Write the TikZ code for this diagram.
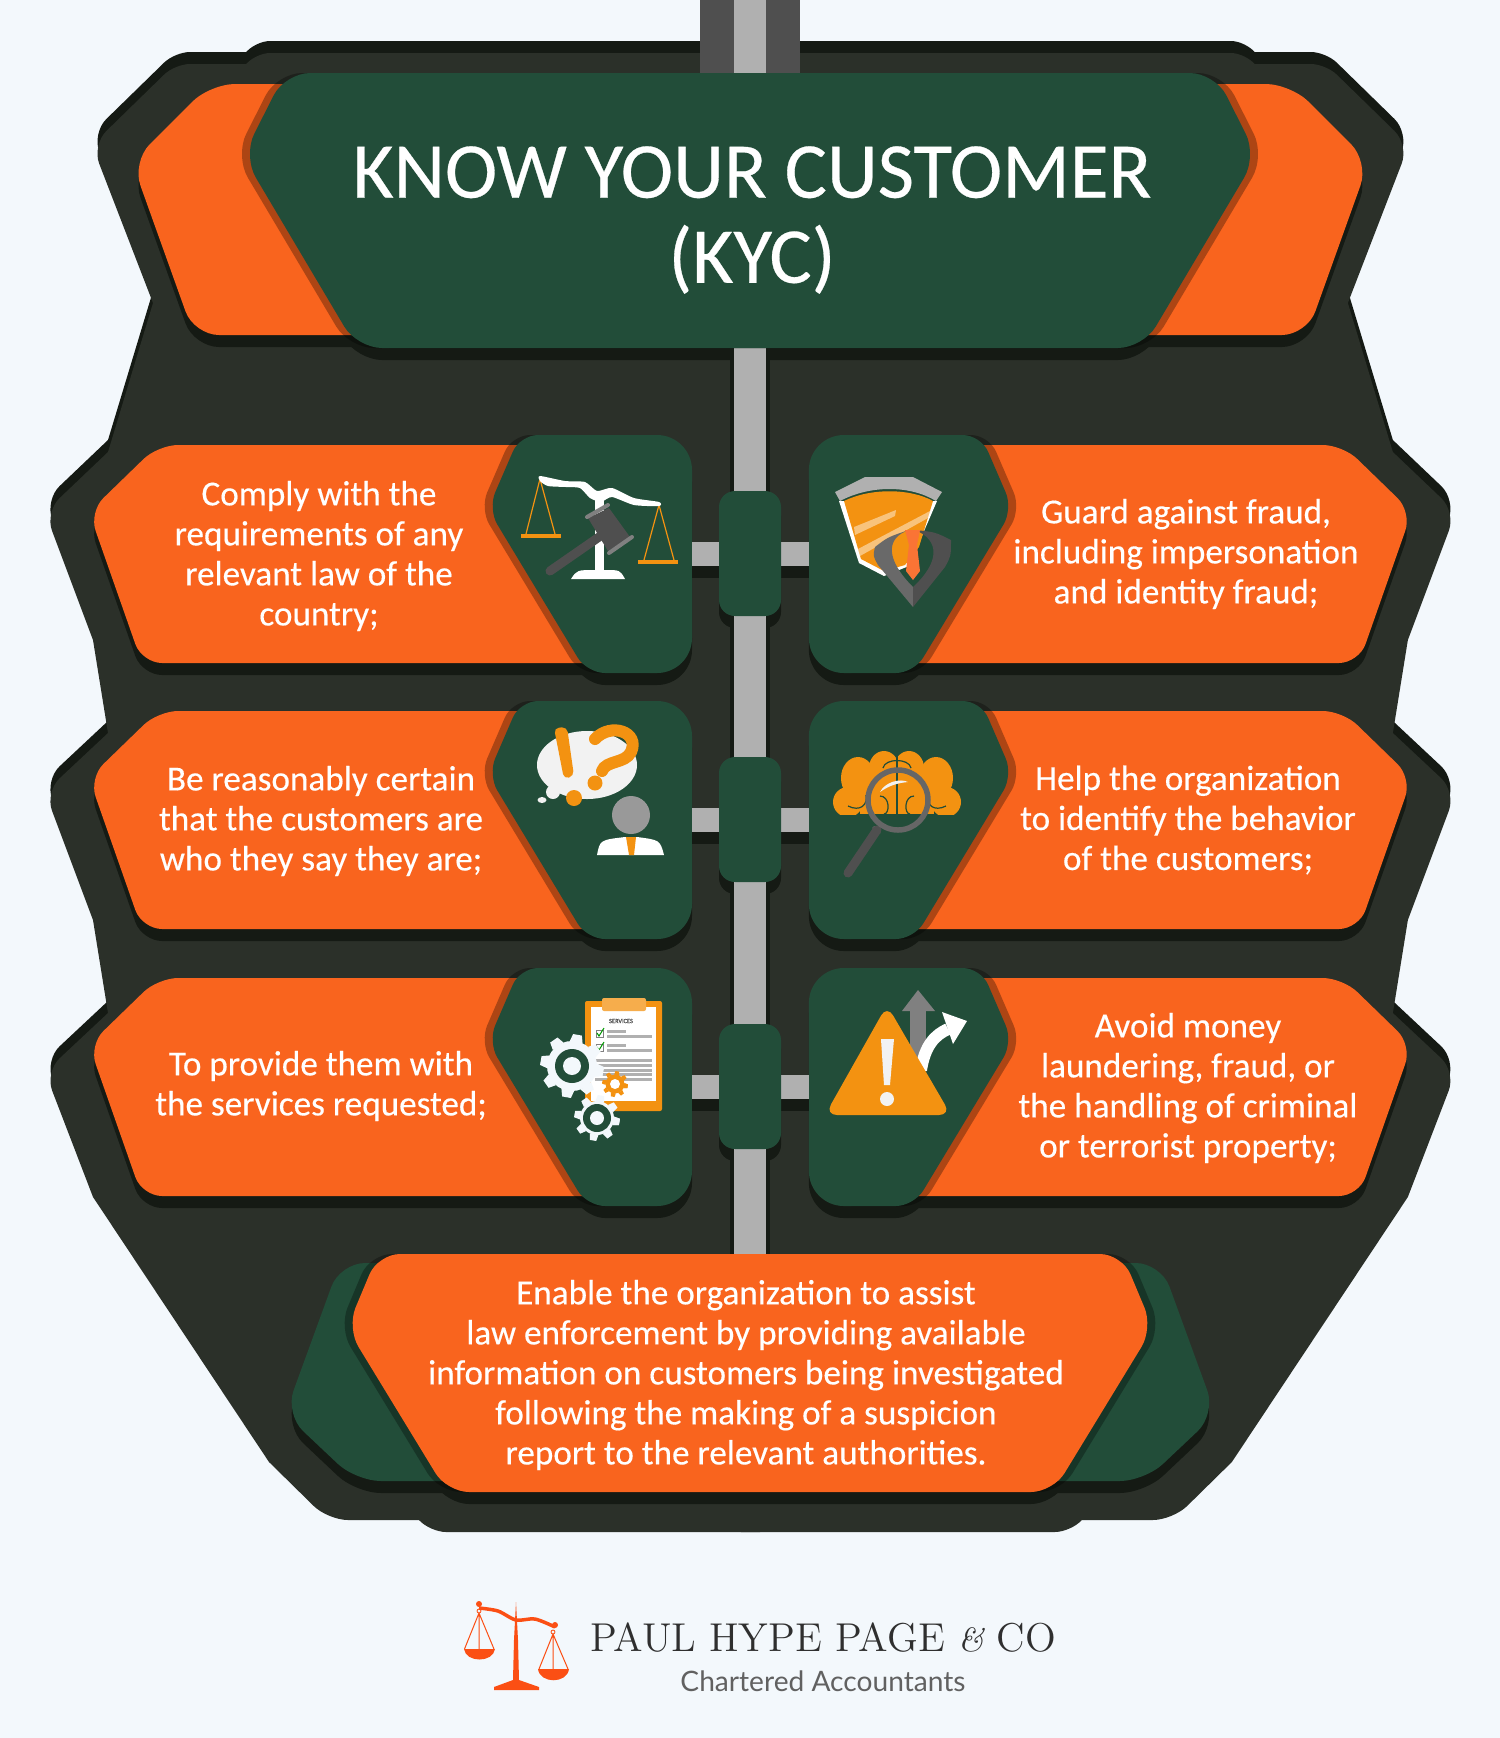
\documentclass[tikz,border=0pt]{standalone}
\usepackage{fontspec}
\usetikzlibrary{calc}
\newfontfamily\cabin[FakeBold=0.35]{Carlito}
\newfontfamily\plainsans{Lato}

\definecolor{paperbg}{HTML}{F3F8FC}
\definecolor{bodydark}{HTML}{2B3029}
\definecolor{shadowdark}{HTML}{151A14}
\definecolor{kycorange}{HTML}{F9641E}
\definecolor{kycgreen}{HTML}{224D39}
\definecolor{polegray}{HTML}{B0B0B0}
\definecolor{irongray}{HTML}{4F4F4F}
\definecolor{iconorange}{HTML}{F39211}
\definecolor{logored}{HTML}{FB4F14}

\tikzset{
  dropshadow/.style={fill=shadowdark,yshift=-.12cm},
  sidedim/.style={fill=black,fill opacity=.3,xshift=-.08cm},
  mirrored/.style={xscale=-1,xshift=-15cm},
  rowtext/.style={text=white,align=center,font=\cabin\fontsize{10}{11.38}\selectfont},
  titletext/.style={text=white,align=center,font=\cabin\fontsize{22.5}{24.2}\selectfont},
}

\def\bodyhalf{(760,53) [rounded corners=.16cm] -- (254,53) [sharp corners] -- (246,64) [rounded corners=.15cm] -- (175,64) [rounded corners=.2cm] -- (92,145) [sharp corners] -- (153,303) -- (108,452) [rounded corners=.2cm] -- (45,512) [sharp corners] -- (93,640) -- (108,733) [rounded corners=.2cm] -- (45,792) [sharp corners] -- (93,920) -- (108,1013) [rounded corners=.2cm] -- (45,1072) [sharp corners] -- (93,1197) -- (269,1462) [rounded corners=.2cm] -- (328,1520) [sharp corners] -- (419,1520) [rounded corners=.16cm] -- (430,1532) [sharp corners] -- (760,1532) -- cycle}
\def\headorange{(760,84) [rounded corners=.25cm] -- (210,84) -- (132,162) -- (194,335) [sharp corners] -- (760,335) -- cycle}
\def\headgreen{(750,73) [rounded corners=.25cm] -- (285,73) -- (243,156) -- (357,348) -- (1143,348) -- (1257,156) -- (1215,73) [sharp corners] -- cycle}
\def\footgreen{(760,1263) [rounded corners=.25cm] -- (340,1263) -- (285,1414) -- (356,1481) [sharp corners] -- (760,1481) -- cycle}
\def\footorange{(750,1254) [rounded corners=.22cm] -- (378,1254) -- (347,1328) -- (447,1492) -- (1053,1492) -- (1153,1328) -- (1122,1254) [sharp corners] -- cycle}
\def\rowpanel{(600,445) [rounded corners=.2cm] -- (158,445) -- (89,512) -- (142,663) [sharp corners] -- (600,663) -- cycle}
\def\rowbox{(600,435) [rounded corners=.18cm] -- (520,435) -- (488,509) -- (587,673) [rounded corners=.35cm] -- (692,673) -- (692,435) [sharp corners] -- cycle}

\newcommand{\rowside}[1]{
  \begin{scope}[shift={(0,#1)}]
    \fill[dropshadow] \rowpanel;
    \fill[dropshadow] \rowbox;
    \fill[kycorange] \rowpanel;
    \fill[sidedim] \rowbox;
    \fill[kycgreen] \rowbox;
    \fill[shadowdark] (692,566) rectangle (725,578);
    \fill[polegray] (692,542) rectangle (725,566);
  \end{scope}
}
\newcommand{\gearshape}[5]{
  \fill[#5] (#1,#2) circle[radius=#4];
  \foreach \a in {10,55,...,370}
    \fill[#5] ({#1+#4*cos(\a-15)},{#2+#4*sin(\a-15)}) -- ({#1+#3*cos(\a-8)},{#2+#3*sin(\a-8)}) -- ({#1+#3*cos(\a+8)},{#2+#3*sin(\a+8)}) -- ({#1+#4*cos(\a+15)},{#2+#4*sin(\a+15)}) -- cycle;
}

\begin{document}
\begin{tikzpicture}[x=0.01cm,y=-0.01cm]
  \useasboundingbox (0,0) rectangle (1500,1738);
  \fill[paperbg] (0,0) rectangle (1500,1738);

  %%%%% BODY %%%%%
  \fill[shadowdark,yshift=.12cm] \bodyhalf;
  \begin{scope}[mirrored]
    \fill[shadowdark,yshift=.12cm] \bodyhalf;
  \end{scope}
  \fill[bodydark] \bodyhalf;
  \begin{scope}[mirrored]
    \fill[bodydark] \bodyhalf;
  \end{scope}

  %%%%% HEADER SHADOWS AND POLE %%%%%
  \fill[dropshadow] \headorange;
  \begin{scope}[mirrored]
    \fill[dropshadow] \headorange;
  \end{scope}
  \fill[dropshadow] \headgreen;
  \foreach \rowy in {0,266,533}
    \fill[shadowdark,rounded corners=.16cm,shift={(0,\rowy)}] (719,500) rectangle (781,628);
  \fill[irongray] (700,0) rectangle (800,80);
  \fill[polegray] (734,0) rectangle (766,80);
  \fill[shadowdark] (730,340) rectangle (770,1260);
  \fill[polegray] (734,340) rectangle (766,1260);

  %%%%% HEADER %%%%%
  \fill[kycorange] \headorange;
  \begin{scope}[mirrored]
    \fill[kycorange] \headorange;
  \end{scope}
  \fill[sidedim] \headgreen;
  \fill[fill=black,fill opacity=.3,xshift=.08cm] \headgreen;
  \fill[kycgreen] \headgreen;
  \node[titletext] (title) at (752,220) {KNOW YOUR CUSTOMER\\(KYC)};

  %%%%% ROWS %%%%%
  \foreach \rowy in {0,266,533} {
    \rowside{\rowy}
    \begin{scope}[mirrored]
      \rowside{\rowy}
    \end{scope}
    \fill[kycgreen,rounded corners=.16cm,shift={(0,\rowy)}] (719,491) rectangle (781,616);
  }

  \node[rowtext] (lawtext) at (319,556) {Comply with the\\requirements of any\\relevant law of the\\country;};
  \node[rowtext] (fraudtext) at (1186,554) {Guard against fraud,\\including impersonation\\and identity fraud;};
  \node[rowtext] (certaintext) at (321,821) {Be reasonably certain\\that the customers are\\who they say they are;};
  \node[rowtext] (behaviortext) at (1188,820) {Help the organization\\to identify the behavior\\of the customers;};
  \node[rowtext] (servicetext) at (321,1086) {To provide them with\\the services requested;};
  \node[rowtext] (launderingtext) at (1188,1088) {Avoid money\\laundering, fraud, or\\the handling of criminal\\or terrorist property;};

  %%%%% FOOTER %%%%%
  \fill[dropshadow] \footgreen;
  \begin{scope}[mirrored]
    \fill[dropshadow] \footgreen;
  \end{scope}
  \fill[dropshadow] \footorange;
  \fill[kycgreen] \footgreen;
  \begin{scope}[mirrored]
    \fill[kycgreen] \footgreen;
  \end{scope}
  \fill[sidedim] \footorange;
  \fill[fill=black,fill opacity=.3,xshift=.08cm] \footorange;
  \fill[kycorange] \footorange;
  \node[rowtext] (enabletext) at (746,1375) {Enable the organization to assist\\law enforcement by providing available\\information on customers being investigated\\following the making of a suspicion\\report to the relevant authorities.};

  %%%%% SCALES AND GAVEL %%%%%
  \draw[iconorange,line width=.012cm] (526,534) -- (540,479) -- (555,534);
  \draw[iconorange,line width=.012cm] (644,560) -- (659,505) -- (674,560);
  \fill[iconorange] (521,534) rectangle (561,538);
  \fill[iconorange] (638,560) rectangle (678,564);
  \fill[white] (595,494) rectangle (604,570);
  \fill[white] (571,579) .. controls (577,570) .. (595,570) -- (605,570) .. controls (620,570) .. (625,579) -- cycle;
  \fill[white] plot[smooth cycle,tension=.4] coordinates {(540,476) (565,481) (585,482) (597,491) (612,488) (634,498) (659,502) (659,506) (634,505) (612,497) (601,502) (590,498) (580,488) (566,487) (548,486) (540,481)};
  \draw[irongray,line width=.09cm,line cap=round] (550,571) -- (599,537);
  \fill[irongray] (588,518) -- (609,508) -- (630,537) -- (608,551) -- cycle;
  \draw[gray,line width=.04cm,line cap=round] (587,517) -- (608,505);
  \draw[gray,line width=.04cm,line cap=round] (609,553) -- (632,537);

  %%%%% SHIELD AND SUIT %%%%%
  \fill[white] (839,501) -- (859,563) -- (884,576) -- (909,566) -- (937,501) -- cycle;
  \fill[iconorange] (844,501) .. controls (870,488) and (910,488) .. (933,501) -- (919,547) -- (905,565) -- (884,571) -- (861,559) -- cycle;
  \fill[white,opacity=.45] (854,527) -- (896,510) -- (895,516) -- (855,535) -- cycle;
  \fill[white,opacity=.45] (858,549) -- (930,511) -- (928,518) -- (860,556) -- cycle;
  \fill[polegray] (835,492) -- (865,477) -- (913,477) -- (942,492) -- (936,501) .. controls (910,485) and (870,485) .. (840,501) -- cycle;
  \fill[irongray!85!white] (913,607) -- (878,565) .. controls (873,556) .. (875,547) .. controls (888,537) .. (909,530) .. controls (885,538) and (886,560) .. (913,587) -- cycle;
  \fill[irongray] (913,607) -- (945,567) .. controls (951,556) .. (951,540) .. controls (935,532) .. (915,530) .. controls (940,540) and (940,562) .. (913,587) -- cycle;
  \fill[kycorange!90!white] (905,530) -- (920,530) -- (917,545) -- (920,571) -- (913,580) -- (906,571) -- (909,545) -- cycle;

  %%%%% SPEECH BUBBLE AND PERSON %%%%%
  \fill[white!95!black] (587,765) ellipse[x radius=50,y radius=34];
  \fill[white!95!black] (553,792) circle[radius=7];
  \fill[white!95!black] (542,800) ellipse[x radius=4.5,y radius=3];
  \fill[iconorange,rounded corners=.05cm] (554,728) -- (567,727) -- (574,776) -- (564,779) -- cycle;
  \fill[iconorange] (574,798) circle[radius=8];
  \draw[iconorange,line width=.12cm,line cap=round] (595,739) .. controls (611,722) and (640,732) .. (631,752) .. controls (625,764) and (606,760) .. (602,771);
  \fill[iconorange] (595,783) circle[radius=7.5];
  \fill[gray!80!white] (631,815) ellipse[x radius=19,y radius=19];
  \fill[white] (597,855) .. controls (600,840) .. (625,837) -- (637,837) .. controls (660,840) .. (664,855) -- cycle;
  \fill[iconorange] (626,837) -- (636,837) -- (634,855) -- (629,855) -- cycle;

  %%%%% BRAIN AND MAGNIFIER %%%%%
  \begin{scope}
    \clip (820,700) rectangle (970,814);
    \fill[iconorange] (858,778) ellipse[x radius=17,y radius=21];
    \fill[iconorange] (848,802) circle[radius=15];
    \fill[iconorange] (884,768) ellipse[x radius=15,y radius=17];
    \fill[iconorange] (909,768) ellipse[x radius=15,y radius=17];
    \fill[iconorange] (936,778) ellipse[x radius=17,y radius=21];
    \fill[iconorange] (946,802) circle[radius=15];
    \fill[iconorange] (860,770) rectangle (934,814);
  \end{scope}
  \draw[kycgreen,line width=.012cm] (897,752) -- (897,814);
  \draw[kycgreen,line width=.012cm] (848,806) .. controls (860,812) and (868,805) .. (866,795);
  \draw[kycgreen,line width=.012cm] (946,806) .. controls (934,812) and (926,805) .. (928,795);
  \draw[kycgreen,line width=.012cm] (883,768) .. controls (885,758) and (909,758) .. (911,768);
  \draw[kycgreen,line width=.012cm] (880,796) .. controls (890,796) and (890,814) .. (884,814);
  \draw[kycgreen,line width=.012cm] (914,796) .. controls (904,796) and (904,814) .. (910,814);
  \fill[irongray!90!white] (880,828) -- (874,826) -- (872,828) -- (880,834) -- cycle;
  \draw[irongray,line width=.09cm,line cap=round] (877,830) -- (848,873);
  \draw[gray!80!black,line width=.055cm] (898,800) circle[radius=30];
  \fill[white!95!black] (880,792) .. controls (885,782) and (900,778) .. (908,782) .. controls (898,783) and (890,785) .. (880,792) -- cycle;

  %%%%% CLIPBOARD AND GEARS %%%%%
  \fill[iconorange,rounded corners=.02cm] (585,1001) rectangle (662,1111);
  \fill[white] (591,1007) rectangle (656,1101);
  \fill[iconorange!75!white,rounded corners=.02cm] (602,998) rectangle (646,1011);
  \node[text=irongray,font=\cabin\fontsize{1.8}{2}\selectfont,inner sep=0pt] (svcs) at (621,1021) {SERVICES};
  \foreach \liney in {1030,1044} {
    \draw[gray,line width=.01cm] (596,\liney) rectangle (603,\liney+7);
    \draw[green!60!black,line width=.01cm] (597,\liney+3) -- (599,\liney+6) -- (604,\liney-2);
    \fill[polegray] (607,\liney) rectangle (626,\liney+3);
    \fill[polegray] (607,\liney+5) rectangle (652,\liney+8);
  }
  \foreach \liney in {1059,1064,1069,1073,1078}
    \fill[polegray] (595,\liney) rectangle (652,\liney+3);
  \gearshape{615}{1084}{13}{9.5}{iconorange}
  \fill[white] (615,1084) circle[radius=5];
  \gearshape{572}{1066}{32}{25}{paperbg}
  \fill[kycgreen] (572,1066) circle[radius=17];
  \fill[paperbg] (572,1066) circle[radius=9];
  \gearshape{597}{1118}{23}{17}{paperbg}
  \fill[kycgreen] (597,1118) circle[radius=14];
  \fill[paperbg] (597,1118) circle[radius=7];

  %%%%% WARNING SIGN %%%%%
  \fill[gray] (910,1005) rectangle (926,1060);
  \fill[gray] (918,990) -- (935,1011) -- (902,1011) -- cycle;
  \draw[white,line width=.12cm] (921,1070) .. controls (925,1045) and (935,1035) .. (948,1029);
  \fill[white] (942,1012) -- (967,1021) -- (953,1044) -- cycle;
  \fill[iconorange,rounded corners=.12cm] (887,1005) -- (951,1115) -- (825,1115) -- cycle;
  \fill[white!95!black] (881,1039) -- (894,1039) -- (890,1085) -- (884,1085) -- cycle;
  \fill[white!95!black] (887,1099) circle[radius=7];

  %%%%% LOGO %%%%%
  \fill[logored] (516,1602) -- (518,1640) -- (519,1680) -- (513,1680) -- (514,1640) -- cycle;
  \fill[logored] (494,1690) -- (539,1690) -- (539,1687) -- (519,1680) -- (513,1680) -- (494,1687) -- cycle;
  \draw[logored,line width=.035cm] plot[smooth] coordinates {(479,1608) (498,1611) (516,1620) (535,1619) (555,1627)};
  \fill[logored] (479,1604) circle[radius=3];
  \fill[logored] (555,1625) circle[radius=3];
  \draw[logored,line width=.008cm] (479,1611) circle[radius=2];
  \draw[logored,line width=.008cm] (553,1632) circle[radius=2];
  \draw[logored,line width=.01cm] (464.5,1649) -- (479,1613) -- (494,1649) (479,1613) -- (479,1649);
  \draw[logored,line width=.01cm] (539,1669) -- (553,1634) -- (568,1669) (553,1634) -- (553,1669);
  \fill[logored] (464,1649) .. controls (466,1663) and (493,1663) .. (495,1649) -- cycle;
  \fill[logored] (538,1669) .. controls (540,1684) and (567,1684) .. (569,1669) -- cycle;
  \node[text=irongray!60!black,font=\fontsize{11.45}{12}\selectfont,inner sep=0pt] (firmname) at (823,1638) {PAUL HYPE PAGE {\fontsize{9.5}{10}\selectfont\itshape\&} CO};
  \node[text=irongray!90,font=\plainsans\fontsize{8}{9}\selectfont,inner sep=0pt] (firmkind) at (823,1681) {Chartered Accountants};
\end{tikzpicture}
\end{document}
